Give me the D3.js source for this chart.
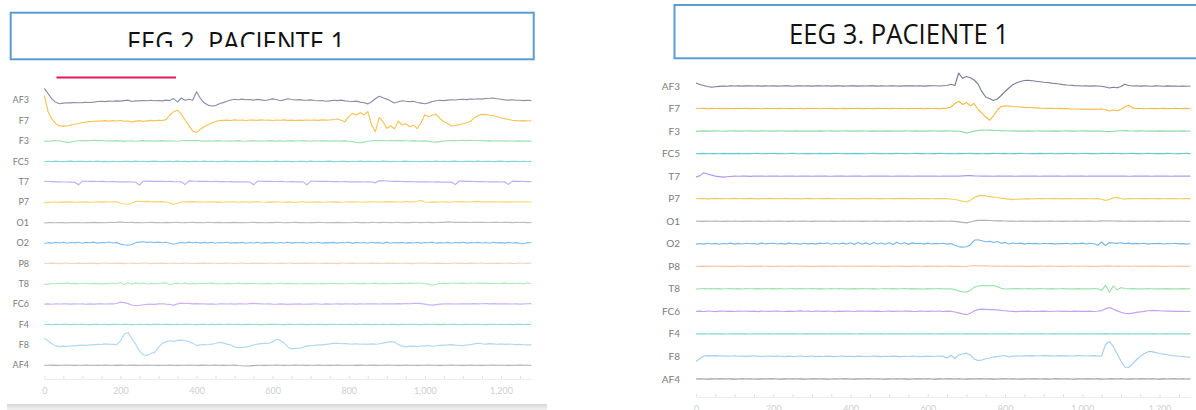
<!DOCTYPE html>
<html>
<head>
<meta charset="utf-8">
<script src="https://cdn.jsdelivr.net/npm/d3@7"></script>
<style>
  html, body { margin: 0; padding: 0; background: #ffffff; }
  svg { display: block; }
</style>
</head>
<body>
<svg id="chart" width="1196" height="410"></svg>
<script>
// Emotiv-style 14 channel montage, one trace per electrode
const channels = ["AF3", "F7", "F3", "FC5", "T7", "P7", "O1", "O2", "P8", "T8", "FC6", "F4", "F8", "AF4"];
const sampleStep = 10;          // samples between stored points
const sampleMax = 1280;
const tickLabels = [0, 200, 400, 600, 800, 1000, 1200];
const titles = ["EEG 2. PACIENTE 1", "EEG 3. PACIENTE 1"];

// ---------- EEG 2 (µV offsets around each channel baseline) ----------
const eeg2AF3 = [12, 6.6, 1.5, -2, -3.4, -2.8, -2.5, -2.6, -2.2, -2.4,
  -2.3, -2, -2.2, -1.8, -1.2, -1, -1.3, -0.8, -1, -0.6,
  -0.8, -0.3, 0.2, -1.2, -0.4, -0.6, -0.2, -0.5, 0, -0.4,
  -0.2, -0.6, 0.2, -0.3, 1.7, -1.6, 2.3, 0, 1, 0,
  8.5, 2, -2.5, -4.8, -5.7, -5.3, -3.5, -2.3, -1, 0.3,
  1, 0.6, 1.2, 0.5, 0.8, 0.2, 0.9, 0.4, -0.2, 0.6,
  1.4, 0.8, -0.4, 0.4, 1.5, 0.8, 0.3, 0.7, 0.2, 0,
  0.4, -0.2, -0.5, -0.2, -1, -0.6, 0, -0.3, 0.2, -0.6,
  -1, -1.2, -0.8, -1.8, -2.5, -3.6, -1.5, 1.5, 4, 2.5,
  1.2, -0.8, -2.7, -1.5, -0.4, -1, -1.3, -1, -2.2, -2.8,
  -3.4, -2.6, -1.2, -0.4, 0, -0.3, 0.2, 0.6, 0.3, 0.8,
  1, 0.7, 1.3, 1, 1.5, 1.2, 1.8, 2, 2.3, 1.6,
  1, 0.4, 0.2, 0.5, 0, 0.1, -0.3, 0, -0.2];
const eeg2F7 = [25, 9, 1.5, -3, -5.2, -5.4, -5.3, -4.3, -3.6, -2.8,
  -1.8, -1.5, -1, -0.6, -0.3, -0.4, 0, -0.5, 0, -0.3,
  0.2, -0.6, -0.3, -1.2, -0.5, 0, -0.8, -0.2, 0.3, -0.2,
  0.4, 0.2, 1, 5.7, 9, 10.5, 6.5, 0.7, -5, -10.5,
  -11.7, -8.5, -6, -4, -2.4, -0.8, 0, 0.3, 0.6, 0.2,
  0.8, 0.4, 0.6, 0.2, 0.7, 0.5, 0.3, 0.8, 0.4, 0.6,
  0.2, 0.7, 0.4, 0.8, 0.3, 0.6, 0.2, 0.5, 0.3, 0.7,
  0.4, 0.6, 0.3, 0.8, 0.5, 0.7, 1.2, 1.7, 0.5, -1,
  4, 7.3, 5.7, 8, 6, 9, -4.3, -11, 3, -1,
  -7.7, -5, -8.3, -0.5, -4.3, -3, -6, -4.5, -8, -2,
  6, 4, 5.7, 6.3, 2, -1, -2.8, -5.3, -4.8, -4,
  -3, -2, -0.8, 3, 5, 6.3, 6, 5.4, 5, 4,
  3, 2, 1.2, 0.4, 0, -0.2, 0.1, -0.3, -0.2];
const eeg2F3 = [-0.3, 0, 0.2, 0.5, 0.3, -0.6, -1.3, -1, -0.2, 0.3,
  0.5, 0.2, 0.6, 0.8, 0.4, 0.6, 0.1, 0.3, 0, 0.4,
  0.2, -0.3, 0.1, 0.3, -0.2, 0.2, 0.5, 0, 0.3, -0.1,
  0.2, 0.4, 0, 0.3, 0.1, -0.2, 0.3, 0.5, 0.6, 0.4,
  0.7, 0.2, 0, 0.3, -0.1, 0.2, 0.4, 0.1, 0.3, 0,
  0.2, 0.5, 0.1, -0.2, 0.2, 0.4, 0, 0.3, 0.1, 0.4,
  0.2, 0, 0.3, -0.1, 0.2, 0.4, 0.1, 0.3, 0.5, 0.2,
  0, 0.3, 0.1, 0.4, 0.2, -0.1, 0.2, 0.3, 0, 0.2,
  -0.2, -0.6, -1.4, -1.5, -1, -0.2, 0.3, 0.5, 0.4, 0.6,
  0.3, 0.5, 0.2, 0.4, 0.6, 0.3, 0.1, 0.4, 0.2, 0,
  0.2, -0.3, -0.9, -1, -0.5, 0, 0.3, 0.5, 0.4, 0.6,
  0.7, 0.5, 0.8, 0.6, 0.3, 0.5, 0.2, 0.4, 0.1, 0.3,
  0.2, 0, 0.3, 0.1, -0.1, 0.2, 0, 0.1, 0];
const eeg2FC5 = [0, 0.2, -0.1, 0.3, 0, -0.2, 0.1, 0.3, -0.1, 0.2,
  0.1, -0.2, 0.2, 0, 0.3, -0.1, 0.1, -0.3, 0.2, 0,
  -0.1, 0.2, 0.1, -0.2, 0.3, 0, 0.2, -0.1, 0.1, 0.3,
  0, -0.2, 0.1, 0.2, -0.1, 0.3, 0, 0.1, -0.2, 0.2,
  0.1, 0, 0.3, -0.1, 0.2, 0, -0.2, 0.1, 0.3, 0,
  0.2, -0.1, 0.1, 0.2, -0.2, 0.1, 0.3, 0, -0.1, 0.2,
  0, 0.3, -0.1, 0.1, 0.2, -0.2, 0, 0.2, 0.1, -0.1,
  0.3, 0, 0.2, -0.1, 0.1, 0.3, -0.2, 0, 0.2, 0.1,
  -0.1, 0.2, 0, 0.3, -0.2, 0.1, 0.2, 0, -0.1, 0.3,
  0.1, -0.2, 0.2, 0, 0.1, 0.3, -0.1, 0.2, 0, -0.2,
  0.2, 0.1, -0.1, 0.3, 0, 0.2, -0.2, 0.1, 0.3, 0,
  -0.1, 0.2, 0.1, -0.2, 0.3, 0, 0.1, 0.2, -0.1, 0.1,
  0.3, 0, -0.2, 0.2, 0.1, -0.1, 0.2, 0, 0.1];
const eeg2T7 = [0.5, 0.3, 0.2, 0, -0.1, -0.2, -0.2, -0.3, -0.4, -3,
  0.8, 0.6, 0.5, 0.4, 0.3, 0.4, 0.2, 0.1, 0.2, 0,
  0, -0.1, 0, -0.2, -0.3, -3.2, 0.8, 0.7, 0.5, 0.6,
  0.4, 0.5, 0.3, 0.4, 0.2, 0.1, 0, -2.8, 0.9, 0.7,
  0.6, 0.5, 0.6, 0.4, 0.3, 0.4, 0.2, 0.3, 0.1, 0.2,
  0, 0.1, -0.1, 0, -0.2, -3, 0.8, 0.6, 0.5, 0.6,
  0.4, 0.3, 0.4, 0.2, 0.1, 0.2, 0, -0.1, 0, -3,
  0.7, 0.6, 0.5, 0.4, 0.5, 0.3, 0.2, 0.3, 0.1, 0.2,
  0, 0.1, -0.1, 0, -0.2, -0.1, -0.2, -1, 1.2, 1,
  0.8, 0.6, 0.5, 0.4, 0.3, 0.2, 0.3, 0.1, 0, 0.1,
  -0.1, 0, -0.2, -0.1, -0.3, -0.2, -0.3, -0.2, -2.8, 0.8,
  0.7, 0.5, 0.4, 0.3, 0.2, 0.3, 0.1, 0, -0.1, 0,
  -0.2, -0.1, -2.6, 0.7, 0.5, 0.4, 0.3, 0.2, 0.3];
const eeg2P7 = [-0.5, -0.2, 0, 0.2, 0, 0.3, 0.1, 0.3, 0, 0.2,
  0.1, 0.3, 0, 0.2, 0.4, 0.1, 0.3, 0.2, 0.4, 0.3,
  -0.8, -1.8, -2, -1, 0.8, 1, 0.6, 0.8, 0.5, 0.7,
  0.4, 0.6, 0.2, -0.8, -2, -1, 0.2, 0.5, 0.3, 0.6,
  0.2, 0.4, 0, 0.3, 0.5, 0.1, 0.3, 0, 0.4, 0.2,
  0.3, 0, 0.4, 0.2, 0.1, 0.3, 0.5, 0.2, 0, 0.3,
  0.1, 0.4, 0.2, 0, 0.3, 0.1, -0.1, 0.2, 0.4, 0,
  0.2, 0.1, 0.3, 0, 0.2, 0.4, 0.1, 0.3, 0, 0.2,
  0.3, 0.1, 0.4, 0.2, 0, 0.3, 0.5, 0.2, 0.1, 0.4,
  0.6, 0.3, 0.5, 0.2, 0.4, 0.7, 0.3, 0.5, 1, 1.8,
  0.2, 0, 0.3, 0.1, 0.2, 0.4, 0.1, 0.2, 0.5, 0.6,
  0.3, 0.5, 0.2, 0.6, 0.8, 0.4, 0.5, 0.3, 0.4, 0.2,
  0.4, 0.3, 0.1, 0.3, 0.2, 0.4, 0.2, 0.3, 0.2];
const eeg2O1 = [-0.2, 0, 0.1, -0.1, 0.1, 0, -0.2, 0.1, 0, 0.1,
  -0.1, 0.1, 0, 0.2, 0, 0.1, -0.1, 0.2, 0.1, 0.3,
  0.7, 0.3, 0.1, 0.2, 0, 0.1, -0.1, 0.1, 0.2, 0,
  0.1, -0.1, 0.2, 0, 0.1, 0.2, -0.1, 0, 0.1, 0.2,
  0, 0.1, -0.1, 0.2, 0.1, 0, 0.2, -0.1, 0.1, 0,
  0.2, 0, 0.1, -0.1, 0.1, 0.2, 0, 0.1, -0.1, 0.1,
  0, 0.2, 0.1, -0.1, 0, 0.1, 0.2, 0, 0.1, -0.1,
  0.1, 0, 0.2, 0.1, -0.1, 0.1, 0, 0.2, 0, 0.1,
  -0.1, 0.1, 0.2, 0, 0.1, -0.1, 0.2, 0.1, 0, 0.2,
  0.1, 0, 0.1, 0.2, -0.1, 0.1, 0, 0.2, 0.1, 0,
  0.1, 0.2, 0, 0.1, 0.2, 0.3, 0.8, 0.5, 0.3, 0.4,
  0.2, 0.3, 0.1, 0.3, 0.2, 0.4, 0.2, 0.1, 0.3, 0.2,
  0.1, 0.3, 0.2, 0, 0.2, 0.1, 0.2, 0, 0.1];
const eeg2O2 = [-0.5, 0.3, -0.2, 0.6, 0, 0.8, -0.3, 0.5, 0.1, 0.7,
  -0.2, 0.6, 0.2, 0.9, -0.1, 0.5, 0.3, 1, 0, 0.6,
  -1.2, -1.8, -2.2, -1.5, 0.3, 0.8, 1.2, 0.6, 1, 0.4,
  0.9, 0.2, 0.7, -0.3, -1.2, -0.2, 0.6, 0, 0.9, 0.2,
  0.7, -0.1, 0.6, 0.1, 0.8, -0.2, 0.5, 0.2, 0.7, -0.1,
  0.4, 0.1, 0.6, -0.3, 0.5, 0, 0.7, -0.2, 0.4, 0.1,
  0.6, -0.2, 0.5, 0, 0.8, -0.1, 0.4, 0.2, 0.6, -0.3,
  0.5, 0, 0.7, -0.2, 0.4, 0.1, 0.6, -0.1, 0.5, 0.2,
  0.8, -0.4, 0.6, 0, 0.5, -0.2, 0.7, 0.1, 0.4, -0.5,
  0.9, -0.3, 0.5, 0.1, 0.6, -0.2, 0.4, 0, 0.7, -0.1,
  0.5, 0.2, 0.8, -0.2, 0.4, 0, 0.6, -0.3, 0.5, 0.1,
  0.7, -0.1, 0.4, 0.2, 0.6, 0, 0.5, -0.2, 0.7, 0.1,
  0.4, -0.1, 0.6, 0, 0.3, -0.3, -0.8, 0.5, 0.2];
const eeg2P8 = [0.1, -0.1, 0.2, 0, -0.2, 0.1, 0.3, -0.1, 0, 0.2,
  -0.1, 0.1, 0, 0.3, -0.2, 0.1, 0.2, -0.1, 0.1, 0,
  0.2, -0.2, 0.1, 0.3, 0, -0.1, 0.2, 0.1, -0.2, 0.1,
  0, 0.2, -0.1, 0.1, 0.3, -0.1, 0, 0.2, 0.1, -0.2,
  0.1, 0, 0.2, -0.1, 0.3, 0.1, -0.1, 0, 0.2, 0.1,
  -0.2, 0.1, 0.3, 0, -0.1, 0.2, 0, 0.1, -0.1, 0.3,
  0.1, -0.1, 0.2, 0, 0.1, 0.3, -0.2, 0.1, 0, 0.2,
  -0.1, 0.2, 0.1, -0.1, 0.3, 0, 0.1, -0.2, 0.2, 0.1,
  0, 0.3, -0.1, 0.1, 0.2, -0.1, 0.2, 0, 0.1, -0.1,
  0.2, 0, 0.3, -0.1, 0.1, 0.2, 0, -0.2, 0.1, 0.3,
  0.3, 0.1, -0.1, 0.2, 0, 0.1, -0.1, 0.2, 0.3, 0,
  0.1, -0.2, 0.2, 0, 0.1, 0.3, -0.1, 0.1, 0, 0.2,
  -0.1, 0.1, 0.2, 0, -0.1, 0.2, 0.1, 0, 0.1];
const eeg2T8 = [-0.8, -0.3, 0.2, 0, 0.5, 0.2, 0.6, 0.1, 0.4, 0,
  0.3, 0.5, 0, 0.4, 0.2, -0.1, 0.3, 0.1, 0.5, 0,
  1.2, -0.8, 1, -0.5, 0.9, 0.2, 0.6, -0.2, 0.4, 0.1,
  0.3, 0.6, 0.9, -1.2, 0.2, 0.7, 0, 0.9, -0.3, 0.4,
  0.2, 0.5, 0.1, 0.4, 0.6, 0.2, 0.3, 0, 0.4, 0.1,
  0.3, 0.6, 0.2, 0.4, 0.1, 0.5, 0, 0.3, 0.2, 0.4,
  0, 0.3, 0.5, 0.1, 0.4, 0.2, 0.3, 0, 0.2, 0.4,
  0.1, 0.3, 0, 0.4, 0.2, 0.5, 0.1, 0.3, 0.2, 0,
  0.3, 0.5, 0.1, 0.2, 0.4, 0, 0.3, 0.6, 0.2, 0.4,
  0.1, 0.3, 0.5, 0.2, 0.7, 0.3, 0.6, 0.4, 0.8, 0.5,
  0.2, -0.6, -1.4, -0.5, 0.3, 0.6, 0.2, 0.5, 0.7, 0.4,
  0.6, 0.3, 0.8, 0.5, 0.6, 0.4, 0.7, 0.2, 0.5, 0.3,
  0.4, 0.6, 0.2, 0.5, 0.3, 0.4, 0.1, 0.8, 0.3];
const eeg2FC6 = [0, 0.2, -0.1, 0.3, 0.1, 0.4, 0.2, 0, 0.3, 0.1,
  0.2, -0.1, 0.3, 0, 0.2, 0.4, 0.1, 0.3, 0.2, 0.6,
  2, 1.5, 0.5, -0.8, -1.5, -1.2, -0.6, -0.3, 0, -0.2,
  0.2, 0.4, 0, -0.3, -1, 0.3, 1, 0.6, 0.8, 0.3,
  0.5, 0.2, 0.4, 0, 0.3, -0.1, 0.2, 0.4, 0.1, 0.3,
  0, 0.2, 0.4, 0.1, 0.5, 0.7, 0.5, 0.3, 0.1, 0.2,
  0, -0.1, 0.2, 0, -0.2, 0.1, 0, 0.2, -0.1, 0.1,
  0, 0.2, 0.1, -0.1, 0.2, 0, 0.1, 0.3, 0, 0.2,
  0.1, 0.3, 0, 0.2, 0.1, 0.3, 0.2, 0.4, 0.1, 0.3,
  0.2, 0.4, 0.3, 0.5, 0.3, 0.6, 0.4, 0.7, 0.8, 0.5,
  0, -0.8, -1, -0.5, 0, 0.3, 0.2, 0.4, 0.1, 0.3,
  0.2, 0.4, 0.3, 0.5, 0.2, 0.4, 0.6, 0.3, 0.5, 0.2,
  0.4, 0.2, 0.3, 0.1, 0.3, 0, 0.2, 0.4, 0.5];
const eeg2F4 = [0, 0.1, -0.1, 0.2, 0, 0.1, 0.2, -0.1, 0.1, 0,
  0.2, 0, -0.1, 0.1, 0.2, 0, 0.1, -0.1, 0.2, 0.1,
  0, 0.2, 0.1, -0.1, 0, 0.2, 0, 0.1, -0.1, 0.1,
  0.2, 0, 0.1, 0.2, -0.1, 0.1, 0, 0.2, 0.1, 0,
  -0.1, 0.1, 0.2, 0, 0.1, -0.1, 0.2, 0, 0.1, 0.2,
  0, 0.1, -0.1, 0.2, 0.1, 0, 0.2, -0.1, 0, 0.1,
  0.2, 0.1, 0, -0.1, 0.2, 0.1, 0, 0.2, 0.1, -0.1,
  0.1, 0, 0.2, 0.1, -0.1, 0.1, 0.2, 0, 0.1, 0,
  0.2, -0.1, 0.1, 0, 0.2, 0.1, -0.1, 0.2, 0, 0.1,
  0, 0.2, 0.1, -0.1, 0.1, 0, 0.2, 0.1, 0, -0.1,
  0.1, 0.2, 0, 0.1, -0.1, 0.2, 0, 0.1, 0.2, 0,
  -0.1, 0.1, 0, 0.2, 0.1, 0, -0.1, 0.2, 0.1, 0,
  0.2, 0, 0.1, -0.1, 0.1, 0.2, 0, 0.1, 0];
const eeg2F8 = [6.7, 4.2, 1.2, -1, -1.7, -1.2, -1.4, -0.8, -1, -0.5,
  -0.2, -0.5, 0.2, 0, 0.6, 0.4, 1, 0.7, 0.5, 0.2,
  4, 11, 12.5, 6, 1, -6, -10, -10.5, -8.5, -7.5,
  -2.5, 1.5, 3.3, 4.2, 3.5, 4.5, 4.8, 4.2, 3.5, 1.8,
  -0.7, 0, 0.4, 0.2, 0.8, 1.4, 2.7, 2, 0.8, 0,
  -2.2, -2.7, -2.5, -2, -1.2, -0.2, 0.8, 1.3, 1.5, 1.7,
  3, 5.7, 4.5, 2, -2, -4, -3.5, -3.3, -2.5, -1.2,
  -0.7, -0.4, 0, 0, 0.6, 1, 1.5, 1.7, 1.2, 1.4,
  1, 0.8, 1.2, 0.7, 0.9, 0.5, 1, 0.8, 1.2, 1.8,
  2.5, 3.3, 2.8, 0.5, -1, -2, -1.5, -1.2, -1.6, -0.8,
  -1, -0.6, -1.3, -0.8, -0.4, -0.2, 0, 0.3, -0.2, -0.5,
  -0.7, -0.2, 0.4, 1, 1.7, 1.2, 0.8, 1.3, 1, 0.7,
  1, 0.5, 0.8, 0.7, 0.3, 0.6, 0.2, 0, 0.1];
const eeg2AF4 = [0.1, 0, 0.2, -0.1, 0.1, 0, 0.2, 0.1, -0.1, 0.1,
  0, 0.2, 0.1, 0, -0.1, 0.1, 0.2, 0, 0.1, -0.1,
  0.2, 0, 0.1, 0.2, -0.1, 0, 0.1, 0.2, 0, 0.1,
  -0.1, 0.1, 0, 0.2, 0.1, -0.1, 0.1, 0, 0.2, 0,
  0.1, -0.1, 0.2, 0, 0.1, 0.2, 0, -0.1, 0.1, 0,
  0.2, -0.2, -0.5, -0.7, -0.6, -0.3, 0, 0.1, -0.1, 0.1,
  0, 0.2, 0.1, -0.1, 0, 0.1, 0.2, 0, 0.1, -0.1,
  0.1, 0, 0.2, 0.1, 0, -0.1, 0.1, 0.2, 0, 0.1,
  0, 0.1, -0.1, 0.2, 0, 0.1, 0.2, -0.1, 0, 0.1,
  0.2, 0, 0.1, -0.1, 0.1, 0.2, 0, 0.1, -0.1, 0,
  0.1, 0.2, 0, 0.1, -0.1, 0.1, 0, 0.2, 0.1, 0,
  -0.1, 0.1, 0.2, 0, 0.1, -0.1, 0.1, 0, 0.2, 0.1,
  0, 0.1, -0.1, 0.1, 0, 0.2, 0.1, 0, 0.1];

// ---------- EEG 3 ----------
const eeg3AF3 = [3, 1.5, 0.5, -0.5, -1.3, -0.8, -0.4, 0, -0.2, 0.1,
  0, 0.2, -0.1, 0.1, 0.3, 0, 0.2, -0.1, 0.1, 0,
  0.2, -0.1, 0, 0.3, 0.1, -0.2, 0.1, 0.2, 0, 0.1,
  -0.1, 0.2, 0.1, 0, 0.3, -0.1, 0.1, 0.2, -0.1, 0,
  0.2, 0.1, -0.1, 0.2, 0, 0.3, 0.1, -0.1, 0.2, 0,
  0.1, 0.3, 0, -0.1, 0.2, 0.1, 0.3, 0, 0.2, -0.1,
  0.1, 0.3, 0.2, 0, 0.3, 0.5, 1.7, 0.5, 13, 7.7,
  9.5, 8.3, 6, 2, -5.7, -11, -12.5, -14.5, -13, -9.5,
  -5.5, -2, 1.2, 3.2, 4.5, 5.5, 5.6, 5.2, 4.8, 4.3,
  3.8, 3.5, 2.9, 2.5, 2, 1.4, 1, 0.7, 0.4, 0.2,
  0, 0.2, -0.1, 0.1, 0, -0.2, -1, -2, -1.2, -1.8,
  -0.5, 1.7, 0.5, 0, 0.2, -0.1, 0.1, 0, -0.2, 0.1,
  0, -0.2, 0.1, -0.1, 0, -0.3, -0.1, -0.2, 0];
const eeg3F7 = [0.3, 0, 0.2, -0.1, 0.1, 0, 0.2, -0.1, 0.1, 0,
  -0.1, 0.1, 0, 0.2, -0.1, 0.1, 0, -0.2, 0.1, 0,
  0.1, -0.1, 0.2, 0, 0.1, -0.1, 0, 0.2, -0.1, 0.1,
  0, 0.1, -0.2, 0.1, 0, 0.2, -0.1, 0, 0.1, -0.1,
  0.1, 0, 0.2, -0.1, 0.1, 0, -0.1, 0.2, 0, 0.1,
  -0.1, 0.1, 0, 0.2, 0, -0.1, 0.1, 0, 0.2, -0.1,
  0.1, 0, 0.2, -0.1, 0.2, 0.4, 1.5, 5, 7.3, 4,
  6, 2.7, 5, -1, -4.5, -8.5, -11.7, -7.3, -1.5, 2,
  2.7, 2.5, 2, 1.8, 1.5, 1.2, 1, 0.8, 0.6, 0.4,
  0.3, 0.2, 0.1, 0, 0.1, -0.1, 0, -0.3, -0.5, -0.7,
  -0.6, -0.5, -0.8, -0.6, -0.7, -0.5, -1.2, -2.5, -1.5, -2.2,
  -0.8, 1.5, 3.2, 0.6, 0, 0.1, -0.2, 0, 0.1, -0.1,
  0, 0.1, -0.1, 0, 0.2, 0, -0.1, 0.1, 0];
const eeg3F3 = [-0.3, 0, 0.2, 0, -0.1, 0.2, 0.1, -0.2, 0, 0.1,
  0.2, 0, -0.1, 0.1, 0.2, -0.1, 0, 0.2, 0.1, -0.1,
  0, 0.2, 0.1, -0.1, 0.1, 0, 0.2, -0.1, 0.1, 0,
  0.1, -0.1, 0.2, 0, 0.1, 0.2, -0.1, 0, 0.1, 0.2,
  -0.1, 0.1, 0, 0.2, 0.1, -0.1, 0.2, 0, 0.1, -0.1,
  0.2, 0, 0.1, -0.1, 0.2, 0.1, 0, 0.2, -0.1, 0.1,
  0, 0.2, 0.1, -0.1, 0, 0.2, 0.1, 0, -0.2, -0.8,
  -1.8, -1.2, 0, 0.6, 0.9, 0.8, 1, 0.7, 0.6, 0.4,
  0.3, 0.1, 0.2, 0, 0.1, -0.1, 0.2, 0, 0.1, 0.2,
  0, 0.1, -0.1, 0.2, 0, 0.1, 0.2, -0.1, 0, 0.1,
  0.2, 0, 0.1, -0.1, 0.1, 0, -0.4, -0.6, -0.2, 0.1,
  0.3, 0.4, 0.2, 0.1, 0, 0.2, 0.1, -0.1, 0.1, 0,
  0.2, 0, 0.1, -0.1, 0.1, 0, 0.2, 0, 0.1];
const eeg3FC5 = [0.1, 0, 0.2, -0.1, 0.1, 0, -0.1, 0.2, 0, 0.1,
  0, 0.2, -0.1, 0.1, 0, 0.1, 0.2, -0.1, 0, 0.1,
  0.2, 0, 0.1, -0.1, 0.1, 0.2, 0, -0.1, 0.1, 0,
  0.1, -0.1, 0.2, 0, 0.1, 0, 0.2, 0.1, -0.1, 0.1,
  0, 0.2, 0, 0.1, -0.1, 0.1, 0.2, 0, 0.1, -0.1,
  0.1, 0, 0.2, 0.1, 0, -0.1, 0.1, 0.2, 0, 0.1,
  -0.1, 0.1, 0, 0.2, 0.1, 0, 0.1, -0.1, 0.2, 0,
  0.1, 0.2, 0, 0.1, -0.1, 0.1, 0, 0.2, 0.1, 0,
  0.2, -0.1, 0.1, 0, 0.2, 0.1, -0.1, 0.1, 0, 0.2,
  0, 0.1, 0.2, -0.1, 0.1, 0, 0.2, 0.1, 0, -0.1,
  0.1, 0.2, 0, 0.1, -0.1, 0.2, 0.1, 0, 0.2, 0.1,
  0, -0.1, 0.1, 0.2, 0, 0.1, -0.1, 0.2, 0.1, 0,
  0.1, 0, 0.2, 0.1, -0.1, 0, 0.1, 0.2, 0];
const eeg3T7 = [-1, 0.5, 3.3, 2.2, 1, 0, -0.5, -1, -0.6, -0.3,
  0, -0.1, 0.1, 0, -0.2, 0.1, 0, 0.1, -0.1, 0,
  0.1, 0, -0.1, 0.2, 0, 0.1, -0.1, 0, 0.1, 0,
  -0.1, 0.1, 0, 0.2, 0, -0.1, 0.1, 0, 0.1, -0.1,
  0, 0.1, 0.2, 0, -0.1, 0.1, 0, 0.1, 0, 0.2,
  0, -0.1, 0.1, 0, 0.2, 0.1, -0.1, 0, 0.1, 0,
  0.1, 0, 0.2, -0.1, 0, 0.1, 0, 0.2, 0.1, 0.3,
  0.5, 0.6, 0.3, 0.2, 0.1, 0, 0.1, -0.1, 0, 0.1,
  0, 0.2, 0, -0.1, 0.1, 0, 0.2, 0, 0.1, -0.1,
  0.1, 0, 0.2, 0.1, 0, -0.1, 0.1, 0, 0.2, 0,
  0.1, -0.1, 0, 0.1, 0.2, 0, 0.1, 0.2, 0, 0.1,
  0, 0.1, -0.1, 0, 0.2, 0.1, 0, 0.1, -0.1, 0,
  0.1, 0, 0.1, -0.1, 0, 0.1, 0, 0.2, 0];
const eeg3P7 = [0.2, 0, 0.3, -0.2, 0.1, 0.3, 0, 0.2, -0.1, 0.1,
  0.3, -0.1, 0.2, 0, 0.3, 0.1, -0.2, 0.2, 0, 0.3,
  0, 0.2, -0.1, 0.3, 0.1, 0, 0.2, -0.2, 0.1, 0.3,
  0.1, -0.1, 0.2, 0, 0.3, 0.1, 0.2, -0.1, 0.1, 0,
  0.2, 0.1, -0.2, 0.2, 0, 0.3, -0.1, 0.1, 0.2, 0,
  -0.1, 0.2, 0.1, 0.3, 0, 0.1, -0.2, 0.2, 0.1, 0,
  0.2, -0.1, 0.1, 0, 0.2, 0, -0.3, -0.8, -1.5, -2.5,
  -3.3, -1.5, 1, 2.8, 3.3, 2.8, 2, 1.5, 1.2, 0.5,
  0, -0.5, -1, -0.6, -0.4, -0.2, 0, -0.3, 0.1, 0,
  0.2, -0.1, 0.1, 0, 0.2, -0.2, 0.1, 0, -0.1, 0.1,
  0, 0.2, -0.1, 0.1, 0, -0.6, -1.7, -0.8, 0.8, 1.3,
  0.2, -0.5, 0, 0.2, -0.1, 0.1, 0, 0.2, -0.1, 0,
  0.1, -0.1, 0.2, 0, 0.1, -0.1, 0, 0.2, 0.1];
const eeg3O1 = [0, 0.1, -0.1, 0.1, 0, 0.2, 0, -0.1, 0.1, 0,
  0.1, 0, -0.1, 0.1, 0.2, 0, 0.1, -0.1, 0, 0.1,
  0, 0.2, 0.1, 0, -0.1, 0.1, 0, 0.1, 0.2, 0,
  -0.1, 0.1, 0, 0.2, 0, 0.1, -0.1, 0, 0.1, 0,
  0.2, 0, 0.1, -0.1, 0.1, 0, 0.2, 0.1, 0, -0.1,
  0.1, 0, 0.1, 0.2, 0, -0.1, 0.1, 0, 0.2, 0,
  0.1, -0.1, 0, 0.1, 0.2, 0, 0.1, -0.1, -0.6, -1.2,
  -1.7, -0.8, 0.3, 0.8, 1, 0.9, 0.7, 0.5, 0.4, 0.3,
  0.2, 0.1, 0.2, 0, 0.1, 0.2, 0, 0.1, -0.1, 0.1,
  0, 0.2, 0.1, 0, 0.1, -0.1, 0.1, 0, 0.2, 0.1,
  0, 0.1, 0.2, 0, 0.1, 0.3, 0.2, 0.4, 0.2, 0.1,
  0.2, 0, 0.1, -0.1, 0.1, 0, 0.2, 0.1, 0, 0.1,
  -0.1, 0.1, 0, 0.2, 0, 0.1, 0, -0.1, 0];
const eeg3O2 = [-0.4, 0.3, -0.3, 0.5, -0.2, 0.4, -0.5, 0.3, 0, 0.6,
  -0.3, 0.4, -0.2, 0.5, 0, 0.3, -0.4, 0.6, -0.1, 0.3,
  0.5, -0.2, 0.4, -0.3, 0.6, 0, 0.3, -0.4, 0.5, -0.1,
  0.4, -0.3, 0.6, 0, 0.8, -0.5, 0.5, -0.2, 0.7, -0.3,
  1, -0.6, 1.3, -0.4, 0.9, -0.8, 1.2, -0.3, 0.8, -0.5,
  1.1, -0.7, 1.5, -0.2, 1, -0.6, 0.9, 0.2, 0.5, -0.4,
  0.6, -0.2, 0.4, 0, 0.5, -0.3, 0.2, -1.5, -2.8, -3.3,
  -3, -1.2, 3.5, 4, 3, 2, 2.5, 1.2, 2.3, 0.6,
  1.2, -0.2, 0.8, 0, 0.6, -0.3, 0.5, 0.1, 0.4, -0.2,
  0.5, 0, 0.4, -0.3, 0.3, 0.1, 0.5, -0.2, 0.4, 0,
  0.6, -0.2, 0.5, 0, -1.5, 1.8, -1.8, 1.2, 0.8, 0.4,
  1, 0.2, 0.6, -0.1, 0.4, 0, 0.5, -0.3, 0.3, 0.1,
  0.4, -0.2, 0.3, 0, 0.5, -0.1, 0.2, -0.3, 0];
const eeg3P8 = [0.1, 0, 0.2, -0.1, 0, 0.1, 0.2, 0, -0.1, 0.1,
  0, 0.2, 0.1, -0.1, 0.1, 0, 0.2, 0, 0.1, -0.1,
  0.1, 0, 0.2, 0.1, -0.1, 0, 0.1, 0.2, 0, 0.1,
  -0.1, 0.1, 0, 0.2, 0, 0.1, -0.1, 0.1, 0.2, 0,
  0.1, 0.2, 0, -0.1, 0.1, 0, 0.2, 0.1, 0, 0.1,
  0, 0.1, 0.2, 0, -0.1, 0.1, 0, 0.2, 0.1, 0,
  0.2, 0, 0.1, -0.1, 0.1, 0.2, 0, 0.1, 0, -0.2,
  -0.1, 0.3, 0.7, 0.6, 0.5, 0.4, 0.3, 0.2, 0.3, 0.1,
  0.2, 0, 0.1, 0.2, 0, 0.1, -0.1, 0.1, 0, 0.2,
  0.1, 0, 0.2, 0.1, -0.1, 0.1, 0, 0.2, 0.1, 0,
  0.1, 0.2, 0, 0.1, -0.1, 0.3, 0.2, 0.4, 0.1, 0,
  0.2, 0.1, 0, 0.1, 0.2, -0.1, 0.1, 0, 0.2, 0,
  0.1, 0, -0.1, 0.1, 0.2, 0, 0.1, 0, 0.1];
const eeg3T8 = [-0.3, 0.1, 0.2, -0.1, 0.3, 0, 0.2, -0.2, 0.1, 0.3,
  0, 0.2, -0.2, 0.3, 0.1, -0.1, 0.2, 0, 0.3, -0.1,
  0.2, 0, 0.3, -0.2, 0.1, 0.2, -0.1, 0.3, 0, 0.1,
  0.3, -0.1, 0.2, 0, -0.2, 0.2, 0.1, 0.3, -0.1, 0.1,
  0, 0.2, -0.1, 0.3, 0.1, 0, 0.2, -0.2, 0.1, 0.3,
  -0.1, 0.2, 0, 0.1, 0.3, -0.1, 0.2, 0, 0.1, -0.2,
  0.2, 0, 0.1, 0.3, -0.1, 0.1, 0, -0.8, -2, -3,
  -3.3, -1.5, 1.5, 2.8, 3.2, 3.3, 3, 3.4, 2.2, 0.5,
  -0.2, 0.1, 0, 0.2, -0.1, 0.1, 0.2, 0, -0.1, 0.2,
  0.1, -0.1, 0.2, 0, 0.1, 0.2, -0.1, 0.1, 0, 0.2,
  0, 0.1, -0.1, 0.2, 0.1, -1.5, 3.5, -3.5, 2.8, -1,
  1.2, 0.3, 0, 0.2, -0.1, 0.1, 0, 0.2, 0.1, -0.1,
  0.1, 0, 0.2, -0.1, 0.1, 0, 0.2, 0, 0.1];
const eeg3FC6 = [0, 0.2, -0.1, 0.3, 0.1, -0.2, 0.2, 0.4, 0, 0.2,
  -0.1, 0.3, 0.1, 0.4, 0, 0.2, -0.2, 0.3, 0.1, 0,
  0.2, 0.4, 0.1, -0.1, 0.3, 0, 0.2, 0.5, 0.1, 0.2,
  -0.1, 0.2, 0.4, 0, 0.3, 0.1, -0.2, 0.2, 0, 0.3,
  0.1, -0.1, 0.2, 0.4, 0.1, 0.3, 0, 0.2, -0.1, 0.1,
  0.3, 0, 0.2, 0.1, 0.4, 0.2, 0, -0.1, 0.2, 0.1,
  0, 0.3, 0.1, 0.2, -0.1, 0.2, 0, -0.6, -1.5, -2.5,
  -3.3, -1.8, 0.5, 1.8, 2.3, 2, 1.7, 1.9, 1.5, 1,
  0.6, 0.2, 0, -0.2, 0.1, 0, 0.2, -0.1, 0.1, 0,
  0.2, 0, -0.1, 0.1, 0.2, 0, 0.1, -0.1, 0.2, 0,
  0.1, 0, 0.2, -0.1, 0.1, 0.8, 2.5, 4, 2.2, 0.5,
  -0.8, -2, -2.3, -1.8, -1, -0.5, 0, 0.6, 1, 0.8,
  0.6, 0.4, 0.3, 0.2, 0, 0.1, 0, -0.1, 0];
const eeg3F4 = [0.1, 0, 0.1, -0.1, 0.1, 0, 0.2, 0, -0.1, 0.1,
  0, 0.1, 0.2, 0, -0.1, 0.1, 0, 0.1, 0, 0.2,
  -0.1, 0.1, 0, 0.1, 0.2, 0, 0.1, -0.1, 0, 0.1,
  0.2, 0, 0.1, 0, -0.1, 0.1, 0.2, 0, 0.1, 0,
  0.1, -0.1, 0, 0.2, 0.1, 0, 0.1, 0, 0.2, -0.1,
  0, 0.1, 0.2, 0, 0.1, -0.1, 0.1, 0, 0.2, 0,
  0.1, 0, -0.1, 0.1, 0.2, 0, 0.1, 0, 0.1, -0.1,
  0.2, 0, 0.1, 0.1, 0, 0.2, -0.1, 0.1, 0, 0.1,
  0, 0.2, 0.1, -0.1, 0.1, 0, 0.2, 0, 0.1, 0,
  0.1, -0.1, 0.2, 0, 0.1, 0.1, 0, 0.2, -0.1, 0.1,
  0, 0.1, 0, 0.2, 0.1, 0, 0.3, 0.1, 0, 0.1,
  0.2, 0, 0.1, -0.1, 0.1, 0, 0.2, 0.1, 0, 0.1,
  -0.1, 0.1, 0, 0.2, 0, 0.1, 0, 0.1, 0];
const eeg3F8 = [-5, -2, 0.5, 0.8, 0.6, 0.8, 0.4, 0.7, 0.3, 0.5,
  0.6, 0.2, 0.5, 0.1, 0.4, 0.7, 0.3, 0, 0.2, 0.5,
  0.1, 0.4, 0.2, -0.1, 0.3, 0, 0.2, 0.4, 0, 0.1,
  0.5, -0.2, 0.2, 0, 0.3, 0.1, -0.1, 0.2, 0.4, 0,
  0.2, -0.1, 0.3, 0.1, 0, 0.2, 0.4, 0.1, -0.2, 0.2,
  0, 0.3, 0.1, -0.1, 0.2, 0, 0.3, 0.2, -0.1, 0.1,
  0.3, 0, 0.2, 0.4, 0.1, -1.5, 1.2, -2, 1.5, 2.5,
  3.3, 1.5, -2.5, -4, -3.5, -2.3, -1.5, -0.6, 0, 0.5,
  1, -0.5, 0.3, 0.6, 0.5, 0.7, 0.6, 0.8, 0.5, 0.7,
  0.8, 0.6, 0.7, 0.5, 0.8, 0.6, 0.7, 0.5, 0.6, 0.8,
  0.7, 0.5, 0.6, 0.8, 0.5, 0.3, 12, 15, 10, 2.7,
  -4.5, -10.5, -11, -7.5, -3.3, 0, 2.8, 4.8, 4.8, 3.8,
  3, 2.3, 1.7, 1, 0.7, 0.2, 0, -0.5, -0.6];
const eeg3AF4 = [0, 0.1, 0, -0.1, 0.1, 0, 0.1, 0.2, 0, 0.1,
  -0.1, 0, 0.1, 0, 0.2, 0, -0.1, 0.1, 0, 0.1,
  0.1, 0, -0.1, 0.1, 0, 0.2, 0, 0.1, -0.1, 0,
  0.1, 0.2, 0, 0.1, -0.1, 0, 0.1, 0, 0.2, 0.1,
  0, -0.1, 0.1, 0, 0.1, 0.2, 0, 0.1, 0, -0.1,
  0.1, 0, 0.2, 0, 0.1, -0.1, 0, 0.1, 0.2, 0,
  0.1, 0, -0.1, 0.1, 0, 0.1, 0.2, 0, 0.1, 0,
  -0.1, 0.1, 0, 0.2, 0.1, 0, 0.1, -0.1, 0, 0.1,
  0.2, 0, 0.1, 0, -0.1, 0.1, 0, 0.2, 0.1, 0,
  0.1, -0.1, 0, 0.1, 0.2, 0, 0.1, 0, -0.1, 0.1,
  0, 0.2, 0.1, 0, 0.1, -0.1, 0, 0.1, 0.2, 0,
  0.1, 0, -0.1, 0.1, 0, 0.2, 0.1, 0, 0.1, 0,
  -0.1, 0.1, 0, 0.1, 0.2, 0, 0.1, 0, 0.1];

const eeg2Colors = ["#7f819e", "#f7bd3f", "#93e0a6", "#72d6d3", "#bca3f5", "#f1d361", "#b5b5b5",
  "#72b6f0", "#f9cdb0", "#a9e9b5", "#c6a9f5", "#7fd9d9", "#a9d3f4", "#a4a4a4"];
const eeg3Colors = ["#6e7090", "#f2b530", "#7fd899", "#4fc9c9", "#a98cf0", "#ecc94a", "#a8a8a8",
  "#6aaee8", "#f6bfa0", "#8fe0a4", "#b89af0", "#6fd0d0", "#9cc8ee", "#8f8f8f"];

const eeg2Series = [eeg2AF3, eeg2F7, eeg2F3, eeg2FC5, eeg2T7, eeg2P7, eeg2O1, eeg2O2, eeg2P8, eeg2T8, eeg2FC6, eeg2F4, eeg2F8, eeg2AF4];
const eeg3Series = [eeg3AF3, eeg3F7, eeg3F3, eeg3FC5, eeg3T7, eeg3P7, eeg3O1, eeg3O2, eeg3P8, eeg3T8, eeg3FC6, eeg3F4, eeg3F8, eeg3AF4];

const svg = d3.select("#chart");
const defs = svg.append("defs");

const barGrad = defs.append("linearGradient").attr("id", "scrollGrad")
  .attr("x1", 0).attr("y1", 0).attr("x2", 0).attr("y2", 1);
barGrad.append("stop").attr("offset", "0%").attr("stop-color", "#d6d6d6");
barGrad.append("stop").attr("offset", "100%").attr("stop-color", "#f1f1f1");

function drawPanel(cfg) {
  const g = svg.append("g");
  const x = d3.scaleLinear().domain([0, sampleMax]).range(cfg.xRange);
  const row = d3.scalePoint().domain(channels).range(cfg.rowRange);
  const amp = d3.scaleLinear().domain([-1, 1]).range([1, -1]);   // 1 µV per pixel

  // channel names
  g.append("g").selectAll("text").data(channels).join("text")
    .attr("x", cfg.labelX)
    .attr("y", d => row(d))
    .attr("dy", "0.35em")
    .attr("text-anchor", "end")
    .attr("font-family", "Lato, 'Open Sans', sans-serif")
    .attr("font-size", cfg.labelSize)
    .attr("fill", "#7c7c7c")
    .text(d => d);

  // traces
  channels.forEach((ch, i) => {
    const line = d3.line()
      .x((d, k) => x(k * sampleStep))
      .y(d => row(ch) + amp(d))
      .curve(d3.curveLinear);
    g.append("path")
      .datum(cfg.series[i])
      .attr("d", line)
      .attr("fill", "none")
      .attr("stroke", cfg.colors[i])
      .attr("stroke-width", 1.15)
      .attr("stroke-linejoin", "round")
      .attr("stroke-opacity", 0.9);
  });

  // time axis
  const axis = d3.axisBottom(x)
    .tickValues(d3.range(0, sampleMax + 1, 50))
    .tickSize(3)
    .tickSizeOuter(0)
    .tickFormat(d => tickLabels.includes(d) ? d3.format(",")(d) : "");
  const ax = g.append("g").attr("transform", `translate(0,${cfg.axisY})`).call(axis);
  ax.select(".domain").attr("stroke", "#ececec");
  ax.selectAll(".tick line").attr("stroke", "#e2e2e2").attr("y1", -3).attr("y2", 0);
  ax.selectAll(".tick text")
    .attr("y", 9)
    .attr("font-family", "Lato, 'Open Sans', sans-serif")
    .attr("font-size", 9)
    .attr("fill", "#cfcfcf");
  return g;
}

// ---- EEG 2 ----
const titleFont = "'Open Sans', 'Liberation Sans', sans-serif";
defs.append("clipPath").attr("id", "clip2")
  .append("rect").attr("x", 10).attr("y", 12).attr("width", 525).attr("height", 35);
svg.append("rect").attr("x", 10.7).attr("y", 12.7).attr("width", 523).attr("height", 46.6)
  .attr("fill", "#ffffff").attr("stroke", "#5b9bd5").attr("stroke-width", 2);
svg.append("text").attr("clip-path", "url(#clip2)")
  .attr("x", 236).attr("y", 51.5).attr("text-anchor", "middle")
  .attr("font-family", titleFont).attr("font-size", 27).attr("fill", "#111")
  .attr("textLength", 218).attr("lengthAdjust", "spacingAndGlyphs")
  .text(titles[0]);
svg.append("line").attr("x1", 56.5).attr("x2", 176).attr("y1", 77.5).attr("y2", 77.5)
  .attr("stroke", "#e2185c").attr("stroke-width", 2);

drawPanel({
  series: eeg2Series, colors: eeg2Colors,
  xRange: [44.3, 531.4], rowRange: [100.3, 365.3],
  labelX: 29, labelSize: 9, axisY: 379
});
svg.append("rect").attr("x", 7).attr("y", 404).attr("width", 540).attr("height", 6)
  .attr("fill", "url(#scrollGrad)");

// ---- EEG 3 ----
svg.append("rect").attr("x", 674.5).attr("y", 5).attr("width", 540).attr("height", 53.3)
  .attr("fill", "#ffffff").attr("stroke", "#5b9bd5").attr("stroke-width", 2);
svg.append("text")
  .attr("x", 899).attr("y", 44).attr("text-anchor", "middle")
  .attr("font-family", titleFont).attr("font-size", 27).attr("fill", "#111")
  .attr("textLength", 220).attr("lengthAdjust", "spacingAndGlyphs")
  .text(titles[1]);

drawPanel({
  series: eeg3Series, colors: eeg3Colors,
  xRange: [696, 1190.5], rowRange: [86, 379],
  labelX: 680, labelSize: 10, axisY: 397
});
</script>
</body>
</html>
